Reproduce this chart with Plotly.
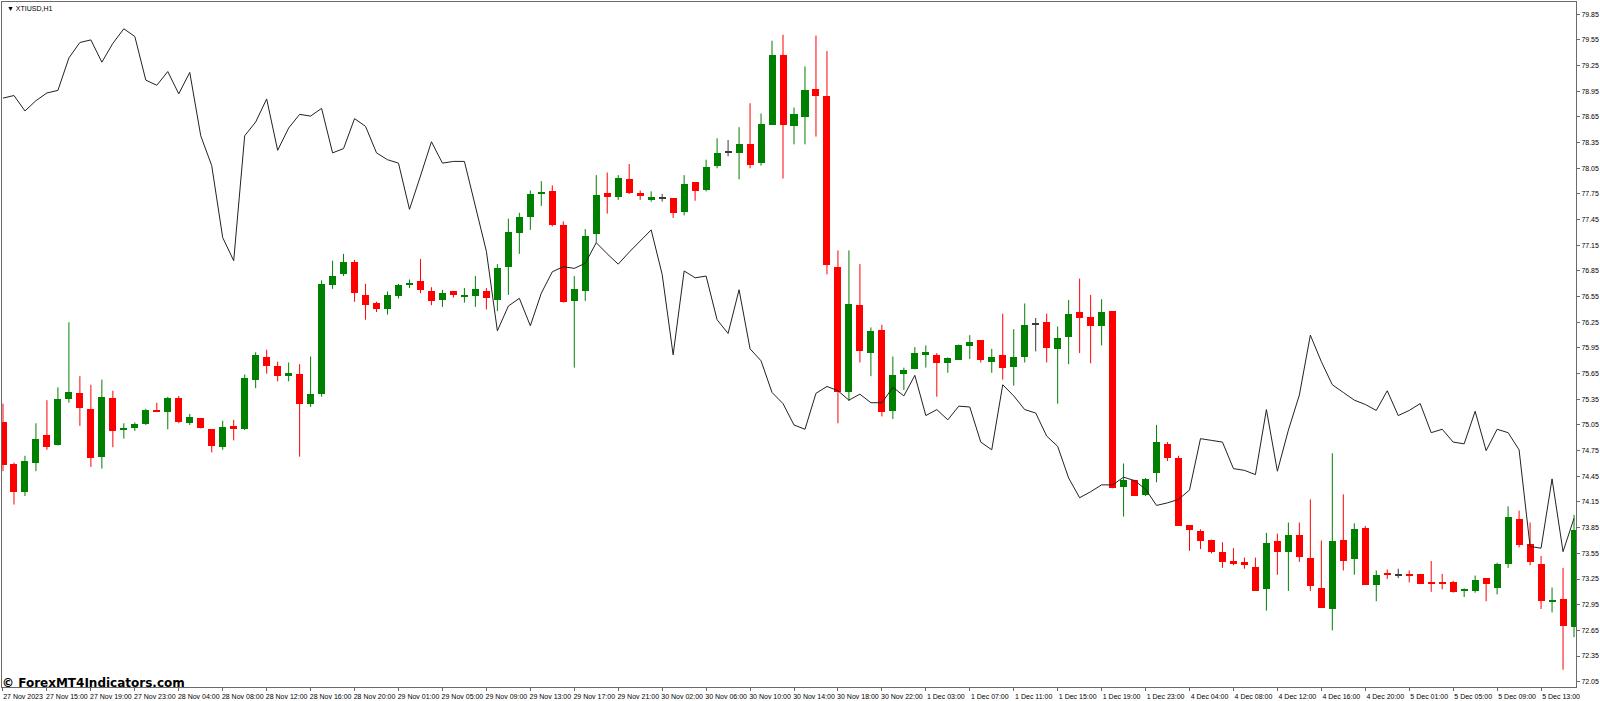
import plotly.graph_objects as go

# ---------------- data ----------------
tick_labels = ["27 Nov 2023", "27 Nov 15:00", "27 Nov 19:00", "27 Nov 23:00", "28 Nov 04:00",
               "28 Nov 08:00", "28 Nov 12:00", "28 Nov 16:00", "28 Nov 20:00", "29 Nov 01:00",
               "29 Nov 05:00", "29 Nov 09:00", "29 Nov 13:00", "29 Nov 17:00", "29 Nov 21:00",
               "30 Nov 02:00", "30 Nov 06:00", "30 Nov 10:00", "30 Nov 14:00", "30 Nov 18:00",
               "30 Nov 22:00", "1 Dec 03:00", "1 Dec 07:00", "1 Dec 11:00", "1 Dec 15:00",
               "1 Dec 19:00", "1 Dec 23:00", "4 Dec 04:00", "4 Dec 08:00", "4 Dec 12:00",
               "4 Dec 16:00", "4 Dec 20:00", "5 Dec 01:00", "5 Dec 05:00", "5 Dec 09:00",
               "5 Dec 13:00"]

price_ticks = ["72.05", "72.35", "72.65", "72.95", "73.25", "73.55", "73.85", "74.15", "74.45",
               "74.75", "75.05", "75.35", "75.65", "75.95", "76.25", "76.55", "76.85", "77.15",
               "77.45", "77.75", "78.05", "78.35", "78.65", "78.95", "79.25", "79.55", "79.85"]

open_ = [75.08, 74.59, 74.27, 74.61, 74.93, 74.82, 75.35, 75.42, 75.24, 74.68,
         75.37, 74.99, 75.02, 75.06, 75.23, 75.20, 75.37, 75.07, 75.13, 75.00,
         74.79, 75.04, 75.00, 75.58, 75.85, 75.74, 75.62, 75.64, 75.29, 75.41,
         76.69, 76.81, 76.95, 76.57, 76.47, 76.40, 76.56, 76.69, 76.73, 76.62,
         76.51, 76.61, 76.55, 76.56, 76.62, 76.51, 76.90, 77.29, 77.48, 77.75,
         77.79, 77.39, 76.50, 76.61, 77.28, 77.76, 77.72, 77.93, 77.76, 77.68,
         77.70, 77.70, 77.54, 77.89, 77.80, 78.08, 78.24, 78.23, 78.33, 78.11,
         78.56, 79.37, 78.54, 78.65, 78.98, 78.90, 76.90, 75.43, 76.45, 75.89,
         76.16, 75.21, 75.65, 75.70, 75.87, 75.87, 75.78, 75.81, 75.97, 76.04,
         75.79, 75.87, 75.73, 75.84, 76.23, 76.25, 75.94, 76.08, 76.37, 76.31,
         76.21, 76.38, 74.33, 74.41, 74.23, 74.49, 74.83, 74.66, 73.88, 73.81,
         73.71, 73.57, 73.46, 73.45, 73.39, 73.13, 73.70, 73.56, 73.77, 73.50,
         73.15, 72.90, 73.71, 73.48, 73.85, 73.18, 73.31, 73.30, 73.31, 73.31,
         73.22, 73.22, 73.22, 73.11, 73.11, 73.26, 73.15, 73.43, 73.95, 73.66,
         73.42, 72.98, 73.02, 72.69]

high = [75.30, 74.61, 74.69, 75.07, 75.34, 75.49, 76.25, 75.62, 75.52, 75.58,
        75.45, 75.07, 75.08, 75.24, 75.31, 75.38, 75.39, 75.18, 75.13, 75.00,
        75.10, 75.11, 75.64, 75.90, 75.93, 75.79, 75.78, 75.76, 75.85, 76.74,
        76.97, 77.05, 76.98, 76.70, 76.49, 76.61, 76.70, 76.75, 76.99, 76.66,
        76.63, 76.61, 76.65, 76.79, 76.65, 76.93, 77.46, 77.53, 77.79, 77.90,
        77.85, 77.43, 76.79, 77.34, 77.97, 78.00, 77.97, 78.10, 77.79, 77.78,
        77.75, 77.70, 77.97, 77.89, 78.15, 78.40, 78.38, 78.53, 78.81, 78.69,
        79.54, 79.61, 78.76, 79.24, 79.60, 79.42, 77.09, 77.09, 76.93, 76.19,
        76.22, 75.85, 75.72, 75.96, 75.98, 75.89, 75.84, 75.99, 76.10, 76.04,
        75.94, 76.35, 76.17, 76.47, 76.30, 76.35, 76.20, 76.51, 76.76, 76.57,
        76.52, 76.38, 74.60, 74.41, 74.43, 75.05, 74.85, 74.69, 73.88, 73.83,
        73.71, 73.68, 73.61, 73.50, 73.50, 73.79, 73.78, 73.91, 73.91, 74.18,
        73.70, 74.72, 74.24, 73.90, 73.87, 73.35, 73.36, 73.37, 73.35, 73.31,
        73.46, 73.31, 73.23, 73.14, 73.29, 73.26, 73.44, 74.10, 74.05, 73.91,
        73.52, 73.15, 73.38, 74.00]

low = [74.51, 74.12, 74.22, 74.51, 74.76, 74.81, 75.31, 75.04, 74.56, 74.54,
       74.79, 74.89, 74.98, 75.05, 75.21, 75.00, 75.07, 75.05, 75.01, 74.73,
       74.76, 74.87, 74.99, 75.48, 75.65, 75.56, 75.56, 74.68, 75.26, 75.38,
       76.64, 76.79, 76.49, 76.28, 76.37, 76.34, 76.53, 76.65, 76.59, 76.45,
       76.43, 76.54, 76.48, 76.43, 76.40, 76.38, 76.57, 77.05, 77.33, 77.61,
       77.37, 76.48, 75.72, 76.50, 77.18, 77.52, 77.68, 77.75, 77.68, 77.66,
       77.66, 77.47, 77.50, 77.67, 77.78, 78.05, 78.19, 77.92, 78.05, 78.08,
       78.56, 77.93, 78.33, 78.33, 78.42, 76.81, 75.07, 75.33, 75.78, 75.62,
       75.15, 75.12, 75.46, 75.70, 75.72, 75.38, 75.66, 75.81, 75.82, 75.78,
       75.66, 75.58, 75.51, 75.78, 75.91, 75.78, 75.30, 75.76, 75.89, 75.77,
       75.98, 74.31, 73.98, 74.22, 74.22, 74.38, 74.63, 73.87, 73.58, 73.60,
       73.55, 73.38, 73.41, 73.37, 73.11, 72.88, 73.30, 73.11, 73.45, 73.11,
       72.91, 72.65, 73.35, 73.30, 73.18, 72.99, 73.25, 73.26, 73.21, 73.19,
       73.10, 73.13, 73.09, 73.04, 73.09, 72.99, 73.07, 73.38, 73.62, 73.41,
       72.90, 72.86, 72.19, 72.57]

close = [74.58, 74.27, 74.63, 74.89, 74.79, 75.35, 75.43, 75.25, 74.66, 75.38,
         74.98, 75.02, 75.06, 75.22, 75.21, 75.36, 75.09, 75.14, 75.01, 74.81,
         75.03, 75.00, 75.60, 75.87, 75.74, 75.62, 75.66, 75.30, 75.41, 76.70,
         76.79, 76.95, 76.59, 76.45, 76.41, 76.57, 76.69, 76.71, 76.63, 76.50,
         76.59, 76.57, 76.57, 76.64, 76.53, 76.89, 77.30, 77.48, 77.75, 77.77,
         77.39, 76.49, 76.64, 77.26, 77.74, 77.71, 77.94, 77.76, 77.73, 77.71,
         77.70, 77.53, 77.87, 77.79, 78.07, 78.23, 78.24, 78.33, 78.09, 78.57,
         79.37, 78.55, 78.68, 78.97, 78.89, 76.92, 75.43, 76.46, 75.92, 76.15,
         75.20, 75.63, 75.69, 75.89, 75.90, 75.77, 75.83, 75.98, 76.02, 75.81,
         75.84, 75.72, 75.85, 76.22, 76.23, 75.95, 76.07, 76.35, 76.30, 76.21,
         76.37, 74.31, 74.41, 74.22, 74.42, 74.85, 74.66, 73.87, 73.82, 73.70,
         73.56, 73.45, 73.43, 73.41, 73.11, 73.67, 73.57, 73.76, 73.51, 73.17,
         72.91, 73.70, 73.46, 73.83, 73.18, 73.30, 73.30, 73.30, 73.29, 73.19,
         73.20, 73.20, 73.10, 73.13, 73.24, 73.19, 73.42, 73.98, 73.65, 73.45,
         72.99, 73.01, 72.70, 73.82]

overlay_line = [78.87, 78.90, 78.72, 78.84, 78.93, 78.96, 79.34, 79.52, 79.55, 79.29,
                79.51, 79.68, 79.59, 79.08, 79.02, 79.18, 78.92, 79.17, 78.43, 78.08,
                77.24, 76.97, 78.43, 78.59, 78.86, 78.26, 78.52, 78.68, 78.66, 78.75,
                78.23, 78.28, 78.63, 78.54, 78.23, 78.15, 78.11, 77.57, 77.96, 78.36,
                78.11, 78.13, 78.13, 77.62, 77.08, 76.15, 76.44, 76.53, 76.21, 76.59,
                76.84, 76.90, 76.88, 76.94, 77.18, 77.05, 76.93, 77.07, 77.20, 77.33,
                76.81, 75.87, 76.85, 76.77, 76.79, 76.28, 76.12, 76.63, 75.94, 75.80,
                75.43, 75.30, 75.05, 75.00, 75.42, 75.50, 75.45, 75.34, 75.41, 75.31,
                75.31, 75.49, 75.39, 75.63, 75.16, 75.23, 75.11, 75.27, 75.26, 74.85,
                74.76, 75.52, 75.39, 75.23, 75.19, 74.92, 74.80, 74.43, 74.20, 74.27,
                74.35, 74.35, 74.44, 74.40, 74.30, 74.11, 74.14, 74.18, 74.29, 74.89,
                74.87, 74.85, 74.54, 74.52, 74.47, 75.23, 74.51, 74.99, 75.40, 76.10,
                75.79, 75.52, 75.43, 75.34, 75.29, 75.22, 75.45, 75.16, 75.22, 75.30,
                74.96, 75.00, 74.85, 74.83, 75.21, 74.75, 75.00, 74.96, 74.76, 73.63,
                73.61, 74.42, 73.57, 73.96]

# ---------------- styling ----------------
GREEN = "#008000"
RED = "#ff0000"
DOJI = "#3a3a3a"
AXIS = "#6a6a6a"
FONT = "Liberation Sans"

idx = list(range(len(open_)))

body_base, body_h, body_col = [], [], []
wick = {GREEN: ([], []), RED: ([], []), DOJI: ([], [])}
for i, o, h, l, c in zip(idx, open_, high, low, close):
    if c > o:
        col = GREEN
    elif c < o:
        col = RED
    else:
        col = DOJI
    lo, hi = min(o, c), max(o, c)
    hgt = max(hi - lo, 0.012)
    body_base.append(lo if hi - lo >= 0.012 else (lo + hi) / 2 - 0.006)
    body_h.append(hgt)
    body_col.append(col)
    wx, wy = wick[col]
    wx += [i, i, None]
    wy += [l, h, None]

fig = go.Figure()

# wicks
for col, (wx, wy) in wick.items():
    fig.add_trace(go.Scatter(x=wx, y=wy, mode="lines", line=dict(color=col, width=1),
                             hoverinfo="skip", showlegend=False))

# bodies
fig.add_trace(go.Bar(x=idx, y=body_h, base=body_base, width=0.64,
                     marker=dict(color=body_col, line=dict(width=0)),
                     hoverinfo="skip", showlegend=False))

# overlay line
fig.add_trace(go.Scatter(x=idx, y=overlay_line, mode="lines",
                         line=dict(color="#222222", width=1),
                         hoverinfo="skip", showlegend=False))

tick_pos = [4 * i for i in range(len(tick_labels))]

fig.update_layout(
    width=1600, height=701,
    margin=dict(l=1, r=23, t=2, b=9),
    paper_bgcolor="white", plot_bgcolor="white",
    showlegend=False,
    bargap=0,
    hovermode=False,
    xaxis=dict(
        range=[-0.09, 143.18], showgrid=False, zeroline=False,
        showline=True, linecolor=AXIS, linewidth=1, mirror=True,
        ticks="outside", ticklen=3, tickcolor=AXIS, tickwidth=1,
        tickvals=tick_pos, ticktext=tick_labels,
        tickfont=dict(family=FONT, size=7, color="black"),
        ticklabelshift=20, ticklabelstandoff=0,
    ),
    yaxis=dict(
        range=[71.988, 79.993], side="right", showgrid=False, zeroline=False,
        showline=True, linecolor=AXIS, linewidth=1, mirror=True,
        ticks="outside", ticklen=3, tickcolor=AXIS, tickwidth=1,
        tickvals=[float(t) for t in price_ticks], ticktext=price_ticks,
        tickfont=dict(family=FONT, size=7, color="black"),
    ),
    annotations=[
        dict(text="▼ XTIUSD,H1", xref="paper", yref="paper", x=0.002, y=0.998,
             xanchor="left", yanchor="top", showarrow=False,
             font=dict(family=FONT, size=7, color="black")),
        dict(text="<b>© ForexMT4Indicators.com</b>", xref="paper", yref="paper",
             x=0.0, y=0.0, xanchor="left", yanchor="bottom", showarrow=False,
             xshift=-2, yshift=-5,
             font=dict(family="DejaVu Sans", size=12, color="black")),
    ],
)

fig.write_html(
    "out.html",
    config={"displayModeBar": False},
    post_script="document.body.style.margin='0px';document.body.style.overflow='hidden';",
)
